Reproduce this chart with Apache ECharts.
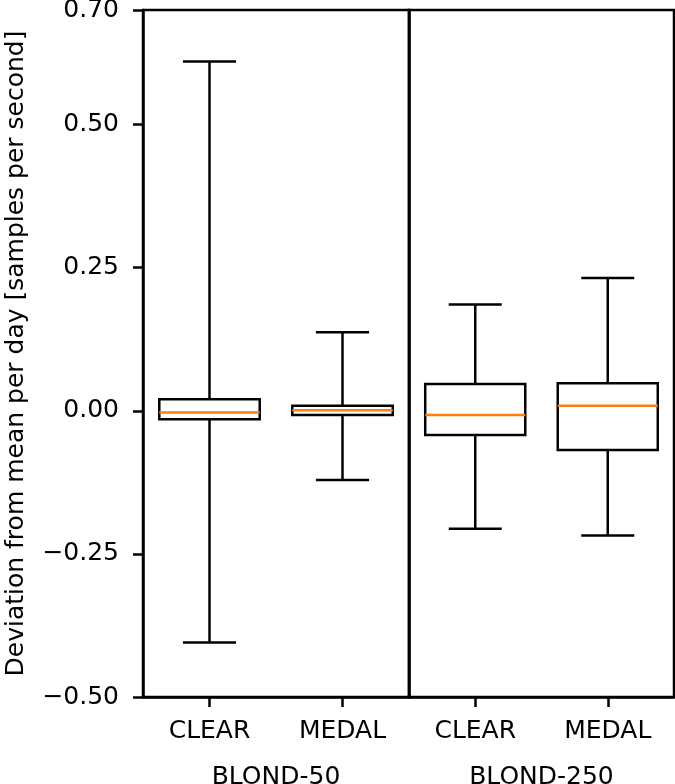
<!DOCTYPE html>
<html>
<head>
<meta charset="utf-8">
<script src="https://cdn.jsdelivr.net/npm/echarts@6/dist/echarts.min.js"></script>
<style>
html,body{margin:0;padding:0;background:#fff;}
#chart{width:675px;height:784px;}
</style>
</head>
<body>
<div id="chart"></div>
<script>
const categories = ['CLEAR', 'MEDAL'];
const groups = ['BLOND-50', 'BLOND-250'];
// order: BLOND-50 CLEAR, BLOND-50 MEDAL, BLOND-250 CLEAR, BLOND-250 MEDAL
const whiskerLow  = [-0.405, -0.121, -0.206, -0.218];
const q1          = [-0.015, -0.0075, -0.0424, -0.0686];
const median      = [-0.003, 0.001, -0.0075, 0.0087];
const q3          = [0.020, 0.0087, 0.0466, 0.048];
const whiskerHigh = [0.610, 0.137, 0.1856, 0.232];
const yTicks = [-0.5, -0.25, 0, 0.25, 0.5, 0.7];
const yLabel = 'Deviation from mean per day [samples per second]';

const FONT = 'DejaVu Sans';
const FS = 25;
const LW = 2.5;

function fmt(v) {
  return (v < 0 ? '\u2212' : '') + Math.abs(v).toFixed(2);
}

function groupData(g) {
  const out = [];
  for (let i = 0; i < categories.length; i++) {
    const k = g * categories.length + i;
    out.push([i, whiskerLow[k], q1[k], median[k], q3[k], whiskerHigh[k]]);
  }
  return out;
}

function renderItem(params, api) {
  const x = api.value(0);
  const band = api.size([1, 0])[0];
  const bw = band * 0.755;
  const cw = band * 0.40;
  const pLo = api.coord([x, api.value(1)]);
  const pQ1 = api.coord([x, api.value(2)]);
  const pMed = api.coord([x, api.value(3)]);
  const pQ3 = api.coord([x, api.value(4)]);
  const pHi = api.coord([x, api.value(5)]);
  const cx = pMed[0];
  const lineStyle = { stroke: '#000', lineWidth: LW, fill: null };
  return {
    type: 'group',
    children: [
      { type: 'line', shape: { x1: cx, y1: pQ1[1], x2: cx, y2: pLo[1] }, style: lineStyle },
      { type: 'line', shape: { x1: cx, y1: pQ3[1], x2: cx, y2: pHi[1] }, style: lineStyle },
      { type: 'line', shape: { x1: cx - cw / 2, y1: pLo[1], x2: cx + cw / 2, y2: pLo[1] }, style: lineStyle },
      { type: 'line', shape: { x1: cx - cw / 2, y1: pHi[1], x2: cx + cw / 2, y2: pHi[1] }, style: lineStyle },
      { type: 'rect', shape: { x: cx - bw / 2, y: pQ3[1], width: bw, height: pQ1[1] - pQ3[1] },
        style: { fill: '#fff', stroke: '#000', lineWidth: LW } },
      { type: 'line', shape: { x1: cx - bw / 2, y1: pMed[1], x2: cx + bw / 2, y2: pMed[1] },
        style: { stroke: '#ff7f0e', lineWidth: LW } }
    ]
  };
}

const chart = echarts.init(document.getElementById('chart'), null, { renderer: 'canvas' });

const axisLine = { show: true, onZero: false, lineStyle: { color: '#000', width: LW } };

const option = {
  animation: false,
  backgroundColor: '#fff',
  textStyle: { fontFamily: FONT },
  grid: [
    { left: 143, top: 10, width: 266, height: 687, show: true, borderColor: '#000', borderWidth: LW,
      backgroundColor: 'transparent', containLabel: false, outerBoundsMode: 'none' },
    { left: 409, top: 10, width: 265, height: 687, show: true, borderColor: '#000', borderWidth: LW,
      backgroundColor: 'transparent', containLabel: false, outerBoundsMode: 'none' }
  ],
  xAxis: groups.map((g, gi) => ({
    type: 'category',
    gridIndex: gi,
    data: categories,
    boundaryGap: true,
    axisLine: axisLine,
    axisTick: { show: true, alignWithLabel: true, length: 10, lineStyle: { color: '#000', width: LW } },
    axisLabel: { color: '#000', fontSize: FS, fontFamily: FONT, margin: 22, lineHeight: FS },
    splitLine: { show: false },
    name: g,
    nameLocation: 'middle',
    nameGap: 68,
    nameTextStyle: { color: '#000', fontSize: FS, fontFamily: FONT, lineHeight: FS }
  })),
  yAxis: [
    {
      type: 'value',
      gridIndex: 0,
      min: -0.5,
      max: 0.7,
      interval: 0.25,
      axisLine: axisLine,
      axisTick: { show: true, length: 10, customValues: yTicks, lineStyle: { color: '#000', width: LW } },
      axisLabel: { color: '#000', fontSize: FS, fontFamily: FONT, margin: 24, customValues: yTicks, formatter: fmt },
      splitLine: { show: false },
      name: yLabel,
      nameLocation: 'middle',
      nameGap: 114,
      nameTextStyle: { color: '#000', fontSize: FS, fontFamily: FONT }
    },
    {
      type: 'value',
      gridIndex: 1,
      min: -0.5,
      max: 0.7,
      interval: 0.25,
      axisLine: axisLine,
      axisTick: { show: false },
      axisLabel: { show: false },
      splitLine: { show: false }
    }
  ],
  series: groups.map((g, gi) => ({
    type: 'custom',
    name: g,
    xAxisIndex: gi,
    yAxisIndex: gi,
    renderItem: renderItem,
    encode: { x: 0, y: [1, 2, 3, 4, 5] },
    data: groupData(gi),
    clip: false
  }))
};

chart.setOption(option);
</script>
</body>
</html>
